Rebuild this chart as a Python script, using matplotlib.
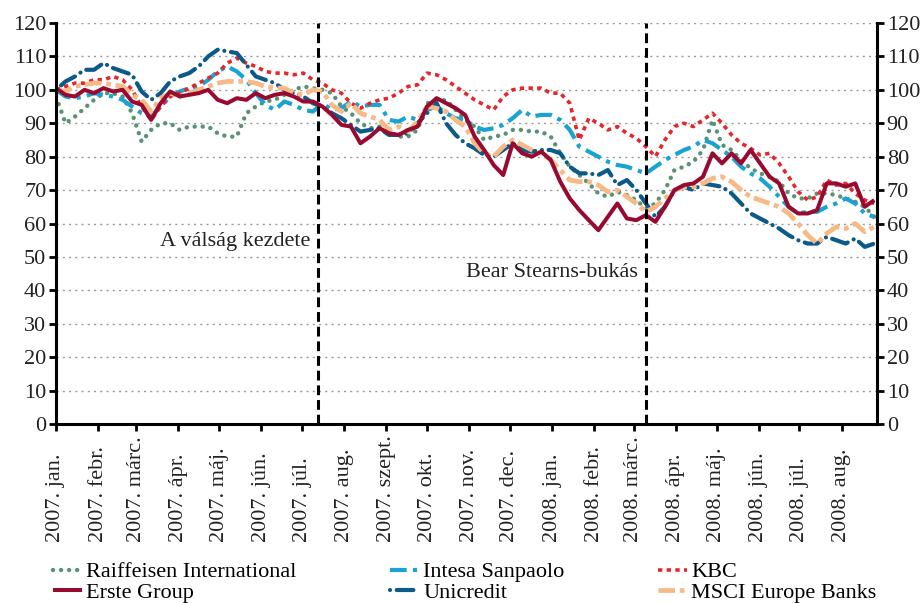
import matplotlib

matplotlib.use("Agg")
import matplotlib.pyplot as plt
import pandas as pd

plt.rcParams["font.family"] = ["Liberation Serif", "DejaVu Serif"]

# weekly observations, 2007-01-01 .. 2008-08-25 (index, start = 100)
dates = pd.date_range("2007-01-01", periods=87, freq="7D")

raiffeisen = [
    98, 90, 92, 94.5, 97, 99, 99, 98, 93, 84.5, 88, 90, 90, 88, 89, 89, 89, 87, 86, 86,
    93, 95, 96.5, 97, 98.5, 100, 101, 100.5, 100, 99, 95, 93, 90, 88.5, 89, 87, 86, 86, 88, 96,
    96.5, 97, 94, 91, 89, 85, 86, 86.5, 88, 88, 87.5, 87.5, 86, 81, 77, 74.5, 72, 69, 68, 69.5,
    68.5, 67, 64.5, 66, 70, 76, 77, 78.5, 82, 91, 83.5, 82, 79, 76.5, 75, 74, 72.5, 69, 67.5, 67.5,
    69, 69, 68.5, 67.5, 66.5, 65, 62,
]
intesa = [
    100, 98, 97.5, 98, 99, 98.5, 98, 97, 95, 93, 92, 95, 98, 99.5, 100.5, 101, 103, 105.5, 107, 105.5,
    103, 99, 95.5, 94, 96.5, 95.5, 94, 93.5, 96, 94, 94.5, 96.5, 95, 95.5, 95.5, 91, 90.5, 92, 91, 94,
    95, 93, 91.5, 91, 89, 88, 88.5, 89.5, 91.5, 94, 92, 92.5, 92.5, 91, 88, 83, 81.5, 80, 78.5, 77.5,
    77, 76, 75, 77, 79, 80.5, 82, 83, 85, 84, 82, 80, 77, 75, 73.5, 71, 68, 65, 63, 63.5,
    63.5, 65, 66, 67.5, 66, 63, 62,
]
kbc = [
    100, 101, 102, 102, 103, 103, 104, 103, 100, 95, 91, 95, 98, 99, 100.5, 102, 103.5, 105, 108, 109.5,
    108, 107, 105.5, 105, 105, 104.5, 105, 103, 102, 100, 99, 96, 94.5, 96, 97, 97.5, 99, 101, 101.5, 105,
    104.5, 103, 101, 99, 97, 95.5, 94, 98, 100, 100.5, 100.5, 100.5, 99, 99, 96, 85, 91.5, 90, 88, 89,
    87, 85.5, 83, 80, 85, 89, 90, 89, 91, 93, 90, 86.5, 84, 82.5, 80.5, 81, 78, 74, 69.5, 67,
    68, 73, 71.5, 72, 69, 67, 66,
]
erste = [
    100.5, 98.5, 98, 100, 99, 100.5, 99.5, 100, 96.5, 95.5, 91, 96, 99.5, 98, 98.5, 99, 100, 97, 96, 97.5,
    97, 99, 97.5, 98.5, 99, 98, 96.5, 96.5, 95, 92.5, 89.5, 89, 84, 86, 88.5, 87, 86.5, 88, 89, 95,
    97.5, 96, 94.5, 92.5, 86, 82, 77.5, 74.5, 84, 81, 80, 81.5, 79, 72.5, 67.5, 64, 61, 58, 62, 66,
    61.5, 61, 62.5, 60.5, 65, 70, 71.5, 72, 74, 81, 78, 81, 78, 82, 78, 74, 72, 65, 63, 63,
    64, 72, 72, 71, 72, 65, 67,
]
unicredit = [
    100, 102.5, 104, 106, 106, 108, 106.5, 105.5, 104.5, 99.5, 97, 99, 102.5, 104, 105, 107, 110, 112, 111.5, 111,
    107.5, 104, 103, 102, 100, 99, 98, 96, 95, 93, 91.5, 89.5, 87.5, 88, 88.5, 86.5, 86.5, 87, 90, 93,
    96, 90, 86.5, 84, 82.5, 80.5, 80, 82, 84, 82, 81.5, 82, 82, 81, 77, 75, 75, 74.5, 76, 71.5,
    73, 70, 66, 62, 65, 70, 71, 70, 72, 71.5, 71, 69, 66, 63, 61.5, 60, 58.5, 56.5, 55, 54,
    54, 56, 55, 54, 55.5, 53, 54,
]
msci = [
    100, 99.5, 101, 101.5, 102, 102, 101.5, 101, 98.5, 97, 93.5, 97.5, 99, 98, 99, 100, 101, 102, 102.5, 102.5,
    102.5, 102, 101, 100.5, 100.5, 99, 98.5, 100, 99.5, 95.5, 93.5, 96, 93, 92, 91, 88, 89, 87.5, 90.5, 95,
    94.5, 93.5, 91, 89, 84, 81, 80, 83, 85, 83.5, 82, 81, 79, 76, 73, 72.5, 72.5, 71.5, 69.5, 70,
    68, 66, 63.5, 65, 67.5, 70, 71, 71, 72, 73.5, 74, 72.5, 70, 68, 67, 66, 65, 63, 60, 56.5,
    54, 57, 59, 58.5, 60, 57.5, 59,
]

month_ticks = pd.date_range("2007-01-01", "2008-08-01", freq="MS")
month_labels = [
    "2007. jan.", "2007. febr.", "2007. márc.", "2007. ápr.", "2007. máj.", "2007. jún.",
    "2007. júl.", "2007. aug.", "2007. szept.", "2007. okt.", "2007. nov.", "2007. dec.",
    "2008. jan.", "2008. febr.", "2008. márc.", "2008. ápr.", "2008. máj.", "2008. jún.",
    "2008. júl.", "2008. aug.",
]
event_dates = [pd.Timestamp("2007-07-13"), pd.Timestamp("2008-03-10")]
event_labels = ["A válság kezdete", "Bear Stearns-bukás"]
event_label_y = [54.5, 45.2]

series = [
    ("Raiffeisen International", raiffeisen, "#5a9278", 3.2, (0, (0.01, 1.8)), "round"),
    ("Intesa Sanpaolo", intesa, "#19a3d2", 3.0, (0, (4, 1.5, 1, 1.5)), "butt"),
    ("KBC", kbc, "#e6262b", 2.6, (0, (1.2, 1.2)), "butt"),
    ("Unicredit", unicredit, "#0b5a89", 3.0, (0, (0.01, 1.6, 4, 1.6)), "round"),
    ("MSCI Europe Banks", msci, "#f7b986", 3.4, (0, (3.5, 1, 1, 1)), "butt"),
    ("Erste Group", erste, "#980a30", 2.9, "-", "butt"),
]

fig = plt.figure(figsize=(9.21, 6.03), dpi=100)
ax = fig.add_axes([0.0608, 0.2968, 0.8914, 0.6651])

for y in range(10, 121, 10):
    ax.axhline(y, color="#9a9a9a", lw=1.0, linestyle=(0, (1.5, 3)), zorder=0)

handles = {}
for name, values, color, lw, ls, cap in series:
    (line,) = ax.plot(dates, values, color=color, lw=lw, linestyle=ls,
                      dash_capstyle=cap, solid_capstyle="butt", label=name)
    handles[name] = line

for d, text, ty in zip(event_dates, event_labels, event_label_y):
    ax.plot([d, d], [0, 120], color="black", lw=2.2, linestyle=(0, (3.2, 1.6)), zorder=5)
    ax.text(d - pd.Timedelta(days=6), ty, text, ha="right", va="center", fontsize=16, color="#222222")

ax.set_xlim(pd.Timestamp("2007-01-01"), pd.Timestamp("2008-08-27"))
ax.set_ylim(0, 120)
ax.set_yticks(range(0, 121, 10))
ax.tick_params(axis="y", labelsize=16, length=5, width=2, pad=2,
               labelright=True, right=True, labelcolor="#222222")
ax.set_xticks(month_ticks)
ax.set_xticklabels(month_labels, rotation=90, va="bottom", ha="center", fontsize=16,
                   color="#222222")
ax.tick_params(axis="x", length=5, width=2, pad=80)

ax.spines["top"].set_visible(False)
for side in ["left", "right", "bottom"]:
    ax.spines[side].set_linewidth(2.2)

order = ["Raiffeisen International", "Erste Group", "Intesa Sanpaolo",
         "Unicredit", "KBC", "MSCI Europe Banks"]
fig.legend([handles[n] for n in order], order, loc="lower left", ncol=3,
           bbox_to_anchor=(0.043, -0.022), frameon=False, fontsize=16,
           handlelength=1.3, handletextpad=0.2, columnspacing=4.2,
           labelspacing=0.0, borderaxespad=0.2)

fig.savefig("out.png", dpi=100)
